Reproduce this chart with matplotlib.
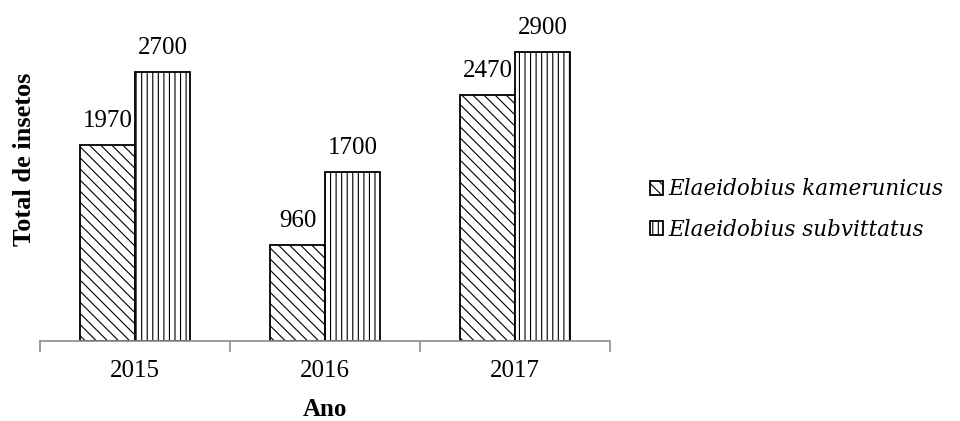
#!/usr/bin/env python3
"""Bar chart: total de insetos por ano (E. kamerunicus x E. subvittatus)."""

import matplotlib
matplotlib.use('Agg')
import matplotlib.pyplot as plt
import numpy as np

years = ['2015', '2016', '2017']
kamerunicus = [1970, 960, 2470]
subvittatus = [2700, 1700, 2900]
series_names = ['Elaeidobius kamerunicus', 'Elaeidobius subvittatus']

plt.rcParams['font.family'] = ['Liberation Serif', 'DejaVu Serif']
plt.rcParams['hatch.linewidth'] = 0.8

fig = plt.figure(figsize=(9.6, 4.21), dpi=100)
# axes placed in pixel terms: left 40, right 610, baseline y=341 (from top)
ax = fig.add_axes([40 / 960, (421 - 341) / 421, 570 / 960, 299 / 421])

x = np.arange(len(years))
bar_width = 0.29
b1 = ax.bar(x - bar_width / 2, kamerunicus, width=bar_width,
            color='white', edgecolor='black', linewidth=1.3,
            hatch='\\\\\\', label=series_names[0])
b2 = ax.bar(x + bar_width / 2, subvittatus, width=bar_width,
            color='white', edgecolor='black', linewidth=1.3,
            hatch='|||', label=series_names[1])

# value labels
for rect, val in zip(list(b1) + list(b2), kamerunicus + subvittatus):
    ax.text(rect.get_x() + rect.get_width() / 2, val + 130, f'{val}',
            ha='center', va='bottom', fontsize=18, clip_on=False)

ax.set_xlim(-0.5, 2.5)
ax.set_ylim(0, 3000)

# axes look
for side in ['top', 'right', 'left']:
    ax.spines[side].set_visible(False)
ax.spines['bottom'].set_color('#8c8c8c')
ax.spines['bottom'].set_linewidth(1.2)
ax.set_yticks([])
ax.set_xticks([-0.5, 0.5, 1.5, 2.5], minor=False)
ax.set_xticklabels([])
ax.tick_params(axis='x', which='major', direction='out', length=8,
               color='#8c8c8c', width=1.2)
ax.set_xticks(x, minor=True)
ax.set_xticklabels(years, minor=True, fontsize=18)
ax.tick_params(axis='x', which='minor', length=0, pad=14)

ax.set_xlabel('Ano', fontsize=18, fontweight='bold', labelpad=11)
ax.set_ylabel('Total de insetos', fontsize=19, fontweight='bold')
ax.yaxis.set_label_coords(-0.007, 0.609)

ax.legend(loc='center left', bbox_to_anchor=(1.037, 0.44), frameon=False,
          prop={'family': 'DejaVu Serif', 'style': 'italic', 'size': 15.5},
          handlelength=0.6, handleheight=0.6, handletextpad=0.25,
          labelspacing=0.85)

plt.savefig('out.png', dpi=100)
